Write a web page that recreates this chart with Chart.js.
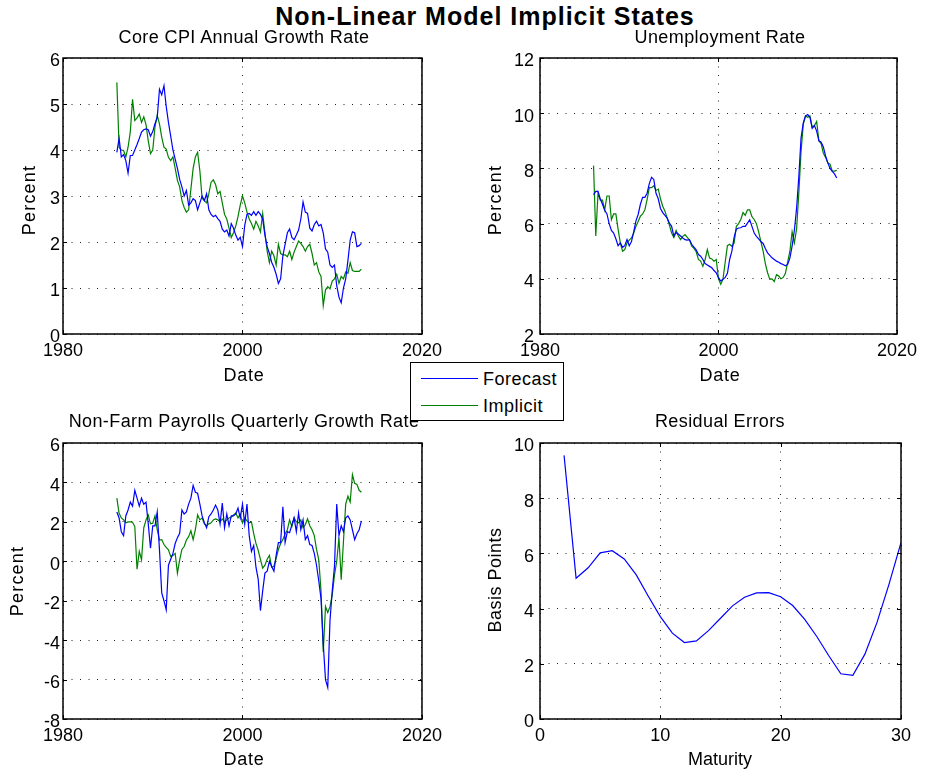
<!DOCTYPE html>
<html>
<head>
<meta charset="utf-8">
<script src="https://cdn.jsdelivr.net/npm/chart.js"></script>
<style>
  html, body { margin: 0; padding: 0; background: #fff; }
  #page { position: relative; width: 925px; height: 773px; overflow: hidden;
          font-family: "Liberation Sans", Arial, Helvetica, sans-serif; color: #000; }
  canvas { position: absolute; }
  .txt { position: absolute; white-space: nowrap; text-align: center;
         font-size: 18px; line-height: 18px; letter-spacing: 0.4px; }
  .main { font-size: 25px; line-height: 25px; font-weight: bold; letter-spacing: 1px; }
  .ylab { transform: rotate(-90deg); transform-origin: 50% 50%; }
  #legend { position: absolute; left: 410px; top: 362px; width: 152px; height: 57px;
            border: 1px solid #000; background: #fff; }
  #legend .sw { position: absolute; left: 10px; width: 57px; height: 0; border-top: 1px solid; }
  #legend .lt { position: absolute; left: 72px; font-size: 18px; line-height: 18px; letter-spacing: 0.5px; }
</style>
</head>
<body>
<div id="page">
  <canvas id="cpiChart" width="435" height="347" style="left:13px;top:38px"></canvas>
  <canvas id="urChart" width="443" height="347" style="left:480px;top:38px"></canvas>
  <canvas id="nfpChart" width="445" height="347" style="left:3px;top:423px"></canvas>
  <canvas id="resChart" width="443" height="347" style="left:480px;top:423px"></canvas>

  <div class="txt main" style="left:185px;top:4px;width:600px">Non-Linear Model Implicit States</div>

  <div class="txt" style="left:44px;top:28px;width:400px">Core CPI Annual Growth Rate</div>
  <div class="txt" style="left:520px;top:28px;width:400px">Unemployment Rate</div>
  <div class="txt" style="left:44px;top:412px;width:400px">Non-Farm Payrolls Quarterly Growth Rate</div>
  <div class="txt" style="left:520px;top:412px;width:400px">Residual Errors</div>

  <div class="txt" style="left:144px;top:366px;width:200px;letter-spacing:0.75px">Date</div>
  <div class="txt" style="left:620px;top:366px;width:200px;letter-spacing:0.75px">Date</div>
  <div class="txt" style="left:144px;top:750px;width:200px;letter-spacing:0.75px">Date</div>
  <div class="txt" style="left:620px;top:750px;width:200px;letter-spacing:0px">Maturity</div>

  <div class="txt ylab" style="left:-71px;top:191px;width:200px;letter-spacing:1.2px">Percent</div>
  <div class="txt ylab" style="left:395px;top:191px;width:200px;letter-spacing:1.2px">Percent</div>
  <div class="txt ylab" style="left:-83px;top:572px;width:200px;letter-spacing:1.2px">Percent</div>
  <div class="txt ylab" style="left:395px;top:571px;width:200px;letter-spacing:0.5px">Basis Points</div>

  <div id="legend">
    <div class="sw" style="top:15px;border-color:#0000ff"></div>
    <div class="lt" style="top:7px">Forecast</div>
    <div class="sw" style="top:42px;border-color:#008000"></div>
    <div class="lt" style="top:34px">Implicit</div>
  </div>
</div>

<script>
// Quarterly observation dates (decimal years)
const dates = [
  1986, 1986.25, 1986.5, 1986.75, 1987, 1987.25, 1987.5, 1987.75,
  1988, 1988.25, 1988.5, 1988.75, 1989, 1989.25, 1989.5, 1989.75,
  1990, 1990.25, 1990.5, 1990.75, 1991, 1991.25, 1991.5, 1991.75,
  1992, 1992.25, 1992.5, 1992.75, 1993, 1993.25, 1993.5, 1993.75,
  1994, 1994.25, 1994.5, 1994.75, 1995, 1995.25, 1995.5, 1995.75,
  1996, 1996.25, 1996.5, 1996.75, 1997, 1997.25, 1997.5, 1997.75,
  1998, 1998.25, 1998.5, 1998.75, 1999, 1999.25, 1999.5, 1999.75,
  2000, 2000.25, 2000.5, 2000.75, 2001, 2001.25, 2001.5, 2001.75,
  2002, 2002.25, 2002.5, 2002.75, 2003, 2003.25, 2003.5, 2003.75,
  2004, 2004.25, 2004.5, 2004.75, 2005, 2005.25, 2005.5, 2005.75,
  2006, 2006.25, 2006.5, 2006.75, 2007, 2007.25, 2007.5, 2007.75,
  2008, 2008.25, 2008.5, 2008.75, 2009, 2009.25, 2009.5, 2009.75,
  2010, 2010.25, 2010.5, 2010.75, 2011, 2011.25, 2011.5, 2011.75,
  2012, 2012.25, 2012.5, 2012.75, 2013, 2013.25
];

// Core CPI annual growth rate (%)
const cpiForecast = [
  3.95, 4.25, 3.85, 3.9, 3.77, 3.5, 3.88, 3.88, 4.0, 4.12,
  4.25, 4.39, 4.44, 4.46, 4.44, 4.3, 4.4, 4.57, 4.71, 5.32,
  5.2, 5.4, 4.95, 4.6, 4.3, 4.0, 3.8, 3.6, 3.36, 3.2,
  3.0, 3.12, 2.8, 2.85, 2.94, 2.9, 2.7, 2.85, 3.0, 2.9,
  3.05, 2.7, 2.6, 2.55, 2.58, 2.51, 2.45, 2.28, 2.22, 2.26,
  2.13, 2.4, 2.3, 2.15, 2.04, 2.1, 1.9, 2.36, 2.6, 2.62,
  2.58, 2.66, 2.58, 2.66, 2.6, 2.5, 2.15, 1.9, 1.75, 1.56,
  1.45, 1.3, 1.1, 1.2, 1.7, 1.95, 2.2, 2.28, 2.1, 2.05,
  2.15, 2.26, 2.5, 2.87, 2.65, 2.62, 2.3, 2.24, 2.38, 2.45,
  2.35, 2.38, 2.2, 1.85, 1.78, 1.5, 1.45, 1.5, 1.05, 0.8,
  0.68, 1.0, 1.2, 1.6, 2.04, 2.22, 2.2, 1.9, 1.92, 1.97
];
const cpiImplicit = [
  5.47, 4.06, 4.0, 3.99, 3.85, 4.06, 4.4, 5.1, 4.64, 4.7,
  4.78, 4.6, 4.72, 4.55, 4.2, 3.92, 4.0, 4.5, 4.75, 4.57,
  4.28, 4.06, 4.02, 3.84, 3.77, 3.85, 3.6, 3.34, 3.2, 2.9,
  2.75, 2.65, 2.7, 3.15, 3.6, 3.85, 3.95, 3.55, 2.95, 2.9,
  2.85, 3.05, 3.3, 3.35, 3.25, 3.05, 3.1, 2.85, 2.6, 2.5,
  2.3, 2.1, 2.2, 2.35, 2.55, 2.8, 3.0, 2.85, 2.65, 2.5,
  2.4, 2.28, 2.45, 2.35, 2.22, 2.62, 2.2, 1.8, 1.55, 1.8,
  1.7, 1.5, 1.95, 1.75, 1.72, 1.72, 1.68, 1.8, 1.62, 1.78,
  1.9, 2.02, 1.97, 1.9, 1.8, 1.9, 1.95, 1.75, 1.5, 1.55,
  1.35, 1.25, 0.62, 0.96, 1.03, 0.98, 1.15, 1.2, 1.3, 1.1,
  1.25, 1.2, 1.35, 1.32, 1.55, 1.38, 1.36, 1.36, 1.36, 1.41
];

// Unemployment rate (%)
const urForecast = [
  7.05, 7.17, 7.17, 6.9, 6.7, 6.48, 6.35, 6.0, 5.75, 5.66,
  5.45, 5.2, 5.3, 5.14, 5.2, 5.42, 5.2, 5.35, 5.7, 6.1,
  6.33, 6.7, 6.95, 6.95, 7.1, 7.45, 7.68, 7.6, 7.1, 6.9,
  6.55, 6.4, 6.3, 6.2, 6.02, 5.9, 5.54, 5.68, 5.62, 5.55,
  5.48, 5.42, 5.4, 5.42, 5.25, 5.15, 5.05, 4.88, 4.82, 4.7,
  4.55, 4.5, 4.45, 4.4, 4.3, 4.22, 4.04, 3.92, 3.98, 4.05,
  4.2, 4.7, 5.0, 5.5, 5.8, 5.84, 5.85, 5.9, 5.9, 6.02,
  6.14, 5.9, 5.66, 5.54, 5.45, 5.35, 5.28, 5.1, 4.94, 4.85,
  4.76, 4.7, 4.64, 4.6, 4.55, 4.52, 4.47, 4.52, 4.75, 5.18,
  5.75, 6.55, 7.7, 9.1, 9.65, 9.9, 9.95, 9.85, 9.45, 9.55,
  9.35, 9.0, 8.95, 8.78, 8.45, 8.2, 8.0, 7.89, 7.8, 7.65
];
const urImplicit = [
  8.1, 5.55, 7.1, 6.85, 6.85, 6.5, 7.0, 7.0, 6.14, 6.35,
  6.35, 5.8, 5.3, 5.0, 5.06, 5.3, 5.4, 5.48, 5.66, 5.9,
  6.08, 6.27, 6.35, 6.5, 6.87, 7.3, 7.3, 7.37, 7.2, 7.25,
  6.9, 6.63, 6.45, 6.2, 5.95, 5.66, 5.5, 5.75, 5.55, 5.42,
  5.54, 5.6, 5.5, 5.4, 5.18, 5.1, 4.98, 4.7, 4.64, 4.45,
  4.7, 5.06, 4.75, 4.72, 4.64, 4.7, 4.0, 3.8, 3.98, 4.6,
  5.2, 5.25, 5.18, 5.3, 5.9, 6.0, 6.15, 6.4, 6.3, 6.5,
  6.5, 6.25, 6.15, 6.0, 5.7, 5.35, 5.0, 4.55, 4.22, 3.98,
  4.0, 3.9, 4.15, 4.1, 4.0, 4.05, 4.2, 4.6, 5.0, 5.7,
  5.3, 5.8, 7.1, 8.6, 9.6, 9.9, 9.85, 9.9, 9.5, 9.55,
  9.7, 9.0, 8.9, 8.55, 8.4, 8.2, 8.15, 7.9, 7.9, 7.93
];

// Non-farm payrolls quarterly growth rate (%)
const nfpForecast = [
  2.5, 2.2, 1.5, 1.3, 2.3, 2.6, 3.0, 2.8, 3.6, 3.2,
  2.8, 3.2, 2.9, 3.0, 1.9, 0.66, 1.8, 1.8, 2.5, 0.58,
  -1.6, -2.0, -2.46, -0.2, 0.1, 0.4, 0.9, 1.2, 1.42, 2.6,
  2.4, 2.5, 2.9, 3.2, 3.85, 3.5, 3.45, 2.9, 2.3, 1.96,
  1.7, 2.26, 2.4, 2.6, 2.85, 2.6, 1.9, 2.95, 1.7, 2.4,
  1.8, 2.3, 2.3, 2.4, 2.7, 2.2, 2.9, 1.9, 2.9, 1.3,
  0.5, 0.8, -0.3, -0.9, -2.5, -1.5, -0.6, -0.5, 0.0, -0.27,
  -0.5, 0.3, 0.95, 0.95, 2.77, 0.95, 1.5, 1.45, 1.85, 2.2,
  1.5, 2.45, 1.6, 2.1, 1.1, 1.3, 0.85, 0.8, 0.4, -0.2,
  -1.0, -1.9, -4.2, -6.0, -6.4, -3.0, -1.5, -0.25, 2.9, 1.3,
  1.8, 1.5, 2.2, 2.3, 2.1, 1.6, 1.1, 1.4, 1.6, 2.05
];
const nfpImplicit = [
  3.2, 2.43, 2.2, 2.1, 1.95, 2.0, 2.0, 1.98, 1.76, -0.4,
  0.5, 0.07, 1.7, 2.1, 2.35, 1.9, 1.93, 2.3, 1.6, 1.08,
  1.1, 0.85, 0.7, 0.58, 0.25, 0.3, 0.4, -0.6, 0.07, 0.6,
  0.75, 1.08, 1.25, 1.55, 1.1, 1.6, 2.35, 2.1, 2.2, 1.9,
  1.8, 1.9, 1.95, 2.1, 2.15, 2.1, 2.0, 2.15, 2.0, 2.1,
  2.2, 2.25, 2.35, 2.45, 2.2, 2.4, 1.95, 2.2, 2.05, 1.95,
  2.0, 1.4, 0.91, 0.55, 0.1, -0.35, -0.2, 0.1, 0.3, -0.3,
  -0.25, 0.15, 0.6, 0.9, 1.1, 1.4, 1.6, 2.1, 1.76, 2.2,
  2.0, 1.95, 2.1, 1.7, 1.85, 2.15, 1.8, 1.6, 1.3, 0.6,
  0.07, -1.5, -4.6, -2.29, -2.6, -2.3, -1.7, -0.7, 0.0, 1.2,
  -0.94, 1.0, 2.9, 3.3, 3.0, 4.4, 3.95, 3.9, 3.6, 3.5
];

// Yield curve fit residuals by maturity (basis points)
const maturities = [2, 3, 4, 5, 6, 7, 8, 9, 10, 11, 12, 13, 14, 15, 16,
                    17, 18, 19, 20, 21, 22, 23, 24, 25, 26, 27, 28, 29, 30];
const residuals = [9.55, 5.10, 5.48, 6.02, 6.10, 5.80, 5.22, 4.45, 3.71, 3.11,
                   2.77, 2.83, 3.20, 3.65, 4.10, 4.41, 4.57, 4.58, 4.43, 4.11,
                   3.61, 2.99, 2.29, 1.64, 1.58, 2.35, 3.49, 4.88, 6.39];

// Axis tick settings
const dateTicks = { min: 1980, max: 2020, step: 20 };
const maturityTicks = { min: 0, max: 30, step: 10 };

const BLUE = '#0000ff';
const GREEN = '#008000';

Chart.defaults.font.family = '"Liberation Sans", Arial, Helvetica, sans-serif';
Chart.defaults.font.size = 18;
Chart.defaults.color = '#000';

// Solid box around the plot area with short inward tick marks on all four sides
const axesBox = {
  id: 'axesBox',
  afterDraw(chart) {
    const { ctx, chartArea: a, scales } = chart;
    const len = 4;
    ctx.save();
    ctx.strokeStyle = '#000';
    ctx.lineWidth = 1;
    ctx.beginPath();
    scales.x.ticks.forEach(t => {
      const p = Math.round(scales.x.getPixelForValue(t.value)) + 0.5;
      ctx.moveTo(p, a.bottom); ctx.lineTo(p, a.bottom - len);
      ctx.moveTo(p, a.top); ctx.lineTo(p, a.top + len);
    });
    scales.y.ticks.forEach(t => {
      const p = Math.round(scales.y.getPixelForValue(t.value)) + 0.5;
      ctx.moveTo(a.left, p); ctx.lineTo(a.left + len, p);
      ctx.moveTo(a.right, p); ctx.lineTo(a.right - len, p);
    });
    ctx.stroke();
    ctx.lineWidth = 1.5;
    ctx.strokeRect(a.left, a.top, a.right - a.left, a.bottom - a.top);
    ctx.restore();
  }
};

function makePlot(canvasId, xs, series, ax) {
  return new Chart(document.getElementById(canvasId), {
    type: 'line',
    data: {
      datasets: series.map(s => ({
        label: s.label,
        data: xs.map((x, i) => ({ x: x, y: s.values[i] })),
        borderColor: s.color,
        borderWidth: 1.2,
        pointRadius: 0,
        tension: 0,
        fill: false
      }))
    },
    options: {
      responsive: false,
      animation: false,
      events: [],
      layout: { padding: { left: 0, top: 20, right: ax.padRight, bottom: 0 } },
      plugins: { legend: { display: false }, tooltip: { enabled: false } },
      scales: {
        x: {
          type: 'linear', min: ax.x.min, max: ax.x.max,
          ticks: { stepSize: ax.x.step, padding: 6, maxRotation: 0, autoSkip: false,
                   callback: v => String(v) },
          grid: { color: '#222', lineWidth: 1, drawTicks: false },
          border: { display: false, dash: [1, 7.5] },
          afterFit: s => { s.height = 51; }
        },
        y: {
          type: 'linear', min: ax.y.min, max: ax.y.max,
          ticks: { stepSize: ax.y.step, padding: ax.tickPad, labelOffset: 3.5,
                   callback: v => String(v) },
          grid: { color: '#222', lineWidth: 1, drawTicks: false },
          border: { display: false, dash: [1, 7.5] },
          afterFit: s => { s.width = ax.yWidth; }
        }
      }
    },
    plugins: [axesBox]
  });
}

makePlot('cpiChart', dates, [
  { label: 'Forecast', values: cpiForecast, color: BLUE },
  { label: 'Implicit', values: cpiImplicit, color: GREEN }
], { x: dateTicks, y: { min: 0, max: 6, step: 1 }, yWidth: 50, tickPad: 3, padRight: 24 });

makePlot('urChart', dates, [
  { label: 'Forecast', values: urForecast, color: BLUE },
  { label: 'Implicit', values: urImplicit, color: GREEN }
], { x: dateTicks, y: { min: 2, max: 12, step: 2 }, yWidth: 60, tickPad: 6, padRight: 22 });

makePlot('nfpChart', dates, [
  { label: 'Forecast', values: nfpForecast, color: BLUE },
  { label: 'Implicit', values: nfpImplicit, color: GREEN }
], { x: dateTicks, y: { min: -8, max: 6, step: 2 }, yWidth: 60, tickPad: 3, padRight: 24 });

makePlot('resChart', maturities, [
  { label: 'Residual', values: residuals, color: BLUE }
], { x: maturityTicks, y: { min: 0, max: 10, step: 2 }, yWidth: 60, tickPad: 6, padRight: 22 });
</script>
</body>
</html>
